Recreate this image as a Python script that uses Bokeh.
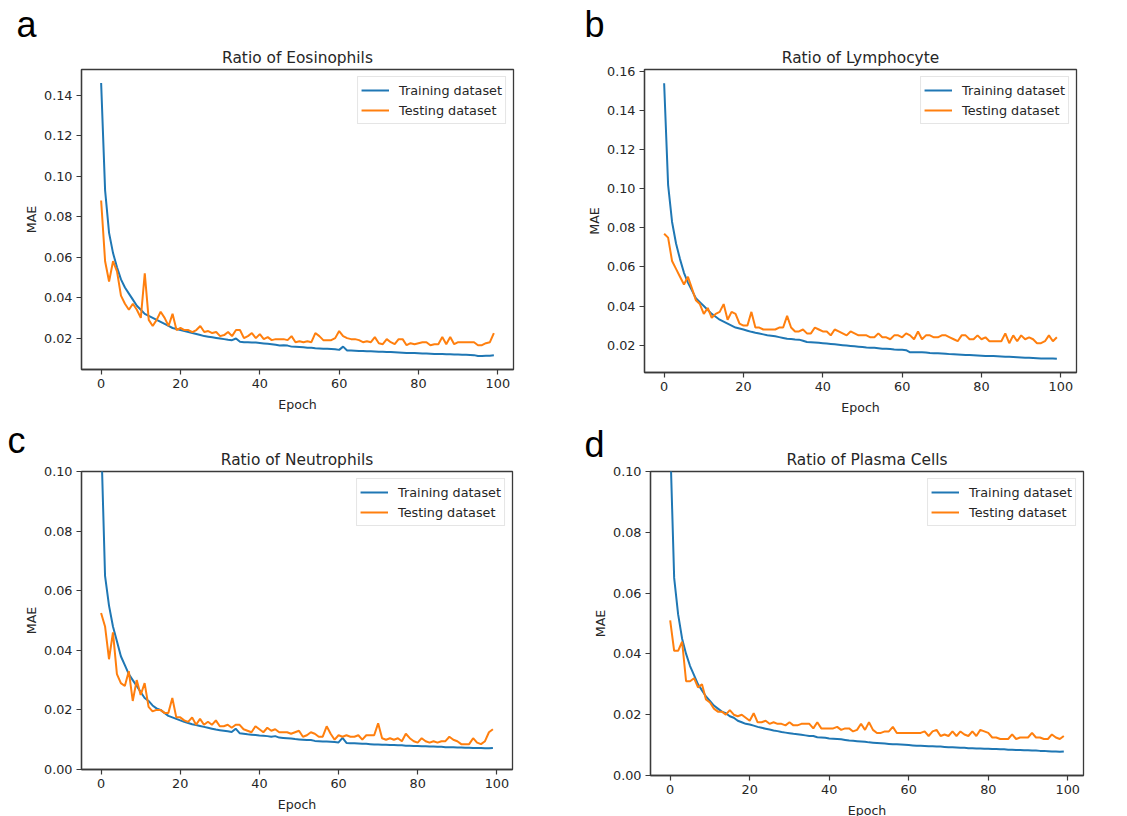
from bokeh.plotting import figure
from bokeh.layouts import row, column
from bokeh.models import FixedTicker, PrintfTickFormatter, Range1d, Legend, LegendItem, Title
from bokeh.embed import file_html
from bokeh.resources import INLINE

epochs = list(range(100))

train_a = [0.146, 0.093, 0.072, 0.062, 0.055, 0.049, 0.045, 0.042, 0.039, 0.036,
           0.034, 0.032, 0.031, 0.030, 0.029, 0.028, 0.027, 0.026, 0.025, 0.0245,
           0.024, 0.0235, 0.023, 0.0225, 0.022, 0.0215, 0.021, 0.0207, 0.0204, 0.0201,
           0.0198, 0.0195, 0.0192, 0.019, 0.0198, 0.0182, 0.018, 0.018, 0.0178, 0.0178,
           0.0176, 0.0174, 0.0172, 0.017, 0.0167, 0.0164, 0.0165, 0.0163, 0.0158, 0.0157,
           0.0156, 0.0155, 0.0153, 0.0152, 0.015, 0.0149, 0.0148, 0.0147, 0.0146, 0.0145,
           0.0142, 0.0158, 0.0139, 0.0139, 0.0138, 0.0137, 0.0136, 0.0135, 0.0135, 0.0134,
           0.0133, 0.0133, 0.0132, 0.0131, 0.013, 0.0129, 0.0128, 0.0127, 0.0127, 0.0126,
           0.0125, 0.0124, 0.0124, 0.0123, 0.0122, 0.0121, 0.0121, 0.012, 0.012, 0.0119,
           0.0119, 0.0118, 0.0118, 0.0117, 0.0116, 0.0112, 0.0112, 0.0113, 0.0113, 0.0115]
test_a = [0.088, 0.058, 0.048, 0.058, 0.053, 0.041, 0.037, 0.034, 0.037, 0.034,
          0.030, 0.052, 0.029, 0.026, 0.029, 0.033, 0.030, 0.026, 0.032, 0.024,
          0.025, 0.024, 0.024, 0.023, 0.024, 0.026, 0.023, 0.0235, 0.0225, 0.023,
          0.021, 0.0215, 0.023, 0.021, 0.024, 0.024, 0.020, 0.021, 0.0225, 0.020,
          0.022, 0.0195, 0.0205, 0.019, 0.0195, 0.0195, 0.0195, 0.019, 0.021, 0.018,
          0.0185, 0.018, 0.0185, 0.018, 0.0225, 0.021, 0.019, 0.019, 0.019, 0.020,
          0.0235, 0.021, 0.020, 0.0195, 0.0195, 0.019, 0.018, 0.0185, 0.018, 0.0205,
          0.0175, 0.017, 0.0195, 0.018, 0.017, 0.0195, 0.0195, 0.0165, 0.0175, 0.017,
          0.0175, 0.018, 0.018, 0.0165, 0.017, 0.017, 0.0205, 0.017, 0.0205, 0.017,
          0.018, 0.018, 0.018, 0.018, 0.018, 0.0165, 0.0165, 0.0175, 0.018, 0.0225]

train_b = [0.154, 0.102, 0.083, 0.072, 0.064, 0.057, 0.052, 0.048, 0.044, 0.042,
           0.040, 0.038, 0.036, 0.0345, 0.033, 0.032, 0.031, 0.030, 0.029, 0.0285,
           0.028, 0.0274, 0.0268, 0.0263, 0.0259, 0.0255, 0.0251, 0.0248, 0.0245, 0.0241,
           0.0237, 0.0233, 0.0231, 0.0229, 0.0228, 0.0222, 0.0216, 0.0215, 0.0214, 0.0212,
           0.021, 0.0208, 0.0206, 0.0204, 0.0202, 0.02, 0.0198, 0.0196, 0.0194, 0.0192,
           0.019, 0.0188, 0.0187, 0.0186, 0.0184, 0.0182, 0.0181, 0.018, 0.0178, 0.0177,
           0.0176, 0.0174, 0.0163, 0.0164, 0.0164, 0.0163, 0.0162, 0.016, 0.0159, 0.0158,
           0.0157, 0.0156, 0.0154, 0.0153, 0.0152, 0.0151, 0.015, 0.0149, 0.0148, 0.0147,
           0.0146, 0.0145, 0.0145, 0.0144, 0.0143, 0.0142, 0.0141, 0.014, 0.0139, 0.0138,
           0.0137, 0.0136, 0.0135, 0.0134, 0.0133, 0.0132, 0.0131, 0.0131, 0.0131, 0.013]
test_b = [0.077, 0.075, 0.063, 0.059, 0.055, 0.051, 0.055, 0.049, 0.043, 0.041,
          0.036, 0.039, 0.034, 0.036, 0.037, 0.041, 0.033, 0.037, 0.036, 0.031,
          0.030, 0.030, 0.037, 0.029, 0.029, 0.028, 0.028, 0.028, 0.028, 0.029,
          0.029, 0.035, 0.029, 0.027, 0.027, 0.028, 0.026, 0.026, 0.029, 0.028,
          0.027, 0.027, 0.025, 0.028, 0.027, 0.026, 0.025, 0.027, 0.026, 0.025,
          0.025, 0.025, 0.024, 0.024, 0.026, 0.024, 0.024, 0.023, 0.025, 0.025,
          0.024, 0.026, 0.025, 0.023, 0.027, 0.023, 0.025, 0.025, 0.024, 0.024,
          0.025, 0.025, 0.024, 0.023, 0.022, 0.025, 0.025, 0.023, 0.023, 0.025,
          0.023, 0.024, 0.022, 0.022, 0.022, 0.022, 0.026, 0.021, 0.025, 0.022,
          0.025, 0.023, 0.024, 0.023, 0.021, 0.021, 0.022, 0.025, 0.022, 0.024]

train_c = [0.112, 0.065, 0.055, 0.048, 0.043, 0.038, 0.035, 0.032, 0.030, 0.028,
           0.026, 0.024, 0.023, 0.0215, 0.0205, 0.020, 0.019, 0.018, 0.0175, 0.017,
           0.0165, 0.016, 0.0156, 0.0152, 0.0149, 0.0146, 0.0143, 0.014, 0.0137, 0.0134,
           0.0132, 0.013, 0.0128, 0.0126, 0.0137, 0.0122, 0.012, 0.0118, 0.0117, 0.0116,
           0.0114, 0.0113, 0.0112, 0.011, 0.0112, 0.0107, 0.0106, 0.0105, 0.0104, 0.0102,
           0.0101, 0.01, 0.0099, 0.0099, 0.0096, 0.0095, 0.0094, 0.0094, 0.0093, 0.0092,
           0.0091, 0.0106, 0.0089, 0.0088, 0.0088, 0.0087, 0.0086, 0.0086, 0.0085, 0.0084,
           0.0084, 0.0083, 0.0083, 0.0082, 0.0082, 0.0081, 0.0081, 0.008, 0.008, 0.0079,
           0.0079, 0.0078, 0.0078, 0.0077, 0.0077, 0.0076, 0.0076, 0.0075, 0.0075, 0.0075,
           0.0074, 0.0074, 0.0073, 0.0073, 0.0072, 0.0072, 0.0072, 0.0071, 0.0071, 0.0072]
test_c = [0.0525, 0.048, 0.037, 0.046, 0.032, 0.029, 0.028, 0.033, 0.023, 0.030,
          0.025, 0.029, 0.021, 0.0195, 0.020, 0.020, 0.019, 0.019, 0.024, 0.0175,
          0.0175, 0.0165, 0.016, 0.0175, 0.015, 0.017, 0.015, 0.016, 0.015, 0.0165,
          0.0145, 0.0145, 0.015, 0.014, 0.015, 0.015, 0.0135, 0.013, 0.0125, 0.0145,
          0.0135, 0.0125, 0.014, 0.013, 0.0135, 0.0125, 0.0125, 0.0125, 0.012, 0.0125,
          0.013, 0.011, 0.0115, 0.0125, 0.012, 0.011, 0.011, 0.0145, 0.012, 0.010,
          0.0115, 0.011, 0.0115, 0.011, 0.011, 0.0115, 0.010, 0.0115, 0.0115, 0.0115,
          0.0155, 0.0105, 0.010, 0.0105, 0.010, 0.0105, 0.0095, 0.012, 0.0105, 0.0095,
          0.009, 0.0105, 0.0095, 0.009, 0.0095, 0.009, 0.0095, 0.0095, 0.011, 0.010,
          0.0095, 0.0085, 0.0085, 0.0085, 0.0105, 0.009, 0.0085, 0.0095, 0.0125, 0.0135]

train_d = [0.11, 0.065, 0.053, 0.045, 0.040, 0.036, 0.033, 0.030, 0.028, 0.026,
           0.0245, 0.023, 0.022, 0.021, 0.0205, 0.0195, 0.019, 0.018, 0.0175, 0.017,
           0.0168, 0.0164, 0.016, 0.0157, 0.0154, 0.0151, 0.0148, 0.0146, 0.0143, 0.0141,
           0.0139, 0.0137, 0.0136, 0.0134, 0.0132, 0.013, 0.013, 0.0126, 0.0125, 0.0124,
           0.0122, 0.0121, 0.012, 0.0119, 0.0117, 0.0115, 0.0114, 0.0113, 0.0112, 0.0111,
           0.0109, 0.0108, 0.0107, 0.0106, 0.0105, 0.0104, 0.0103, 0.0103, 0.0102, 0.0101,
           0.01, 0.0099, 0.0098, 0.0098, 0.0097, 0.0096, 0.0096, 0.0095, 0.0095, 0.0094,
           0.0093, 0.0093, 0.0092, 0.0091, 0.0091, 0.009, 0.009, 0.0089, 0.0089, 0.0088,
           0.0088, 0.0087, 0.0087, 0.0086, 0.0086, 0.0085, 0.0085, 0.0084, 0.0084, 0.0083,
           0.0083, 0.0082, 0.0082, 0.0081, 0.0081, 0.008, 0.0079, 0.0079, 0.0078, 0.0079]
test_d = [0.051, 0.041, 0.041, 0.044, 0.031, 0.031, 0.032, 0.029, 0.030, 0.025,
          0.024, 0.022, 0.021, 0.021, 0.020, 0.0215, 0.020, 0.0195, 0.020, 0.019,
          0.018, 0.0205, 0.0175, 0.0175, 0.018, 0.017, 0.0175, 0.017, 0.017, 0.0165,
          0.0175, 0.0165, 0.0165, 0.017, 0.017, 0.017, 0.0155, 0.0175, 0.0155, 0.0155,
          0.0155, 0.0155, 0.016, 0.015, 0.0155, 0.0155, 0.0145, 0.015, 0.017, 0.015,
          0.0175, 0.015, 0.014, 0.014, 0.0145, 0.0145, 0.016, 0.014, 0.014, 0.014,
          0.014, 0.014, 0.014, 0.014, 0.0145, 0.013, 0.0145, 0.015, 0.013, 0.0135,
          0.013, 0.0145, 0.013, 0.0145, 0.0135, 0.013, 0.0145, 0.013, 0.015, 0.0145,
          0.014, 0.0125, 0.0125, 0.012, 0.012, 0.012, 0.0135, 0.012, 0.0125, 0.0125,
          0.0125, 0.014, 0.0125, 0.0125, 0.012, 0.012, 0.0135, 0.0125, 0.012, 0.013]

titles = ["Ratio of Eosinophils", "Ratio of Lymphocyte", "Ratio of Neutrophils", "Ratio of Plasma Cells"]
panel_letters = ["a", "b", "c", "d"]
series_names = ["Training dataset", "Testing dataset"]
x_ticks = [0, 20, 40, 60, 80, 100]
y_ticks_a = [0.02, 0.04, 0.06, 0.08, 0.10, 0.12, 0.14]
y_ticks_b = [0.02, 0.04, 0.06, 0.08, 0.10, 0.12, 0.14, 0.16]
y_ticks_cd = [0.00, 0.02, 0.04, 0.06, 0.08, 0.10]

BLUE = "#1f77b4"
ORANGE = "#ff7f0e"
DARK = "#262626"
FONT = "DejaVu Sans"


def make_panel(title, letter, train, test, yr, yticks, fw, fh, bl, br, bt, bb, let_offset, let_standoff):
    letter_title = Title(text=letter, align="left", offset=let_offset, standoff=let_standoff,
                         text_font="Liberation Sans", text_font_size="36px",
                         text_font_style="normal", text_color="black")
    p = figure(frame_width=fw, frame_height=fh, min_border_left=bl, min_border_right=br,
               min_border_top=bt, min_border_bottom=bb,
               x_range=Range1d(-4.95, 103.95), y_range=Range1d(*yr),
               output_backend="svg", toolbar_location=None, title=letter_title)
    main_title = Title(text=title, align="center", standoff=6, text_font=FONT,
                       text_font_size="15.4px", text_font_style="normal", text_color=DARK)
    p.add_layout(main_title, "above")
    p.grid.visible = False
    p.outline_line_color = "#3a3a3a"
    p.outline_line_width = 1.3
    p.background_fill_color = "white"
    p.border_fill_color = "white"
    r1 = p.line(epochs, train, line_color=BLUE, line_width=2)
    r2 = p.line(epochs, test, line_color=ORANGE, line_width=2)
    p.xaxis.ticker = FixedTicker(ticks=x_ticks)
    p.yaxis.ticker = FixedTicker(ticks=yticks)
    p.yaxis.formatter = PrintfTickFormatter(format="%.2f")
    for ax in (p.xaxis[0], p.yaxis[0]):
        ax.axis_line_color = "#3a3a3a"
        ax.axis_line_width = 1.3
        ax.major_tick_line_color = "#3a3a3a"
        ax.major_tick_line_width = 1.2
        ax.major_tick_out = 5
        ax.major_tick_in = 0
        ax.minor_tick_line_color = None
        ax.major_label_text_font = FONT
        ax.major_label_text_font_size = "12.8px"
        ax.major_label_text_color = DARK
        ax.major_label_standoff = 4
        ax.axis_label_text_font = FONT
        ax.axis_label_text_font_size = "12.6px"
        ax.axis_label_text_font_style = "normal"
        ax.axis_label_text_color = DARK
    p.xaxis.axis_label_standoff = 6
    p.yaxis.axis_label_standoff = 2
    p.xaxis.axis_label = "Epoch"
    p.yaxis.axis_label = "MAE"
    legend = Legend(items=[LegendItem(label=series_names[0], renderers=[r1]),
                           LegendItem(label=series_names[1], renderers=[r2])],
                    location="top_right", margin=7, padding=3, spacing=0,
                    label_height=20, glyph_height=20, glyph_width=28, label_standoff=10,
                    label_text_font=FONT, label_text_font_size="12.8px", label_text_color=DARK,
                    border_line_color="#cccccc", border_line_width=1,
                    background_fill_alpha=0.8)
    p.add_layout(legend, "center")
    return p


pa = make_panel(titles[0], panel_letters[0], train_a, test_a, (0.0045, 0.1527), y_ticks_a,
                432, 300, 81, 58, 69, 49, -65, -3)
pb = make_panel(titles[1], panel_letters[1], train_b, test_b, (0.006, 0.161), y_ticks_b,
                432, 303, 73, 40, 67, 48, -60, -2)
pc = make_panel(titles[2], panel_letters[2], train_c, test_c, (0.0, 0.10), y_ticks_cd,
                431, 298, 81, 59, 53, 45, -74, -31)
pd = make_panel(titles[3], panel_letters[3], train_d, test_d, (0.0, 0.10), y_ticks_cd,
                433, 304, 79, 33, 49, 43, -66, -39)

layout = column(row(pa, pb, spacing=0), row(pc, pd, spacing=0), spacing=0)

open("out.html", "w").write(file_html(layout, INLINE))
